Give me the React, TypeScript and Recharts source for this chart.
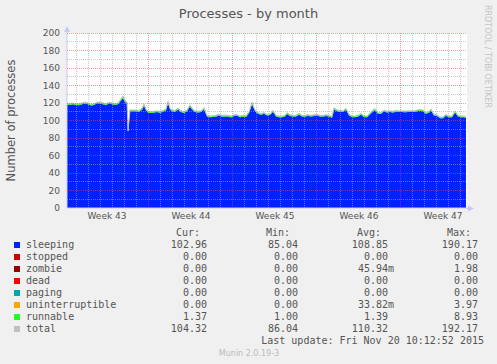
import React from 'react';
import {
  ComposedChart,
  Area,
  Line,
  XAxis,
  YAxis,
} from 'recharts';

// time axis in hours from the left edge of the graph
const hours = [
  0, 6, 12, 18, 24, 30, 36, 42, 48, 54, 60, 66, 72, 78, 84, 90, 96, 102, 108, 112,
  116, 120, 122, 124, 126, 132, 138, 144, 150, 154, 158, 162, 168, 174, 180, 186, 192, 198, 202, 206,
  210, 216, 222, 228, 234, 240, 246, 250, 256, 262, 268, 274, 280, 286, 292, 298, 304, 310, 316, 322,
  328, 334, 340, 346, 352, 358, 364, 370, 376, 382, 388, 394, 400, 406, 412, 418, 424, 430, 436, 440,
  446, 452, 458, 464, 470, 476, 482, 488, 494, 500, 506, 512, 518, 524, 530, 534, 540, 546, 552, 558,
  564, 570, 576, 582, 588, 594, 600, 606, 612, 616, 622, 628, 634, 640, 646, 652, 658, 664, 670, 676,
  682, 688, 694, 700, 706, 712, 718, 724, 728, 734, 740, 746, 752, 758, 764, 770, 776, 782, 788, 794,
  798,
];

const sleeping = [
  117.6, 118, 118.6, 117.6, 117.4, 118.6, 119.5, 118.6, 117.1, 117.7, 119.6, 119.5, 118.6, 117.4, 119.6, 118.6, 118, 118.6, 123, 125.5,
  121.2, 119.5, 86.6, 98.8, 110.6, 110.6, 110.5, 110.1, 112.4, 116.8, 111.6, 109.1, 108.7, 109.1, 109.6, 109, 110.1, 111.4, 119.6, 112.5,
  110.6, 110.1, 112.5, 109.6, 108.6, 110.5, 116, 112.5, 109.6, 109.1, 109.6, 112.9, 104.6, 103.7, 104.1, 104.6, 105.5, 104.6, 104.6, 104.6,
  103.5, 105.1, 105.6, 103.7, 104.6, 104.1, 108.4, 118.6, 110.5, 107.6, 106.6, 107.6, 105.6, 106.2, 109.9, 104.6, 103.6, 103.6, 104.6, 107.5,
  105.1, 104.6, 104.6, 106.5, 104.6, 104.6, 105.1, 104.7, 105.1, 105.6, 104.6, 104.6, 105.1, 104.6, 103.2, 112.7, 110.5, 110.1, 109.6, 112.4,
  105.6, 104.1, 103.7, 104.6, 106.5, 104.1, 103.6, 107, 110.4, 111.7, 107.6, 107.6, 110.5, 109.1, 109.6, 109.1, 110.1, 109.6, 109.6, 109.5,
  109.6, 109.6, 109.6, 110.5, 111.1, 110.6, 107.6, 109, 111.4, 105.6, 105.1, 102.7, 102.6, 105.5, 103.6, 103.6, 109.2, 104.6, 103.6, 103.6,
  102.96,
];

const runnable = [
  1.4, 1.5, 1.4, 1.4, 1.6, 1.4, 1.5, 1.4, 1.4, 1.3, 1.4, 1.5, 1.4, 1.6, 1.4, 1.4, 1.5, 1.4, 2.0, 2.5,
  1.8, 1.5, 1.4, 1.2, 1.4, 1.4, 1.5, 1.4, 1.6, 2.2, 1.4, 1.4, 1.3, 1.4, 1.4, 1.5, 1.4, 1.6, 2.4, 1.5,
  1.4, 1.4, 1.5, 1.4, 1.4, 1.5, 2.0, 1.5, 1.4, 1.4, 1.4, 1.6, 1.4, 1.3, 1.4, 1.4, 1.5, 1.4, 1.4, 1.4,
  1.5, 1.4, 1.4, 1.3, 1.4, 1.4, 1.6, 2.4, 1.5, 1.4, 1.4, 1.4, 1.4, 1.3, 1.6, 1.4, 1.4, 1.4, 1.4, 1.5,
  1.4, 1.4, 1.4, 1.5, 1.4, 1.4, 1.4, 1.3, 1.4, 1.4, 1.4, 1.4, 1.4, 1.4, 1.3, 1.8, 1.5, 1.4, 1.4, 1.6,
  1.4, 1.4, 1.3, 1.4, 1.5, 1.4, 1.4, 1.5, 1.6, 1.8, 1.4, 1.4, 1.5, 1.4, 1.4, 1.4, 1.4, 1.4, 1.4, 1.5,
  1.4, 1.4, 1.4, 1.5, 1.4, 1.4, 1.4, 1.5, 1.6, 1.4, 1.4, 1.3, 1.4, 1.5, 1.4, 1.4, 1.8, 1.4, 1.4, 1.4,
  1.37,
];

const total = [
  119, 119.5, 120, 119, 119, 120, 121, 120, 118.5, 119, 121, 121, 120, 119, 121, 120, 119.5, 120, 125, 128,
  123, 121, 88, 100, 112, 112, 112, 111.5, 114, 119, 113, 110.5, 110, 110.5, 111, 110.5, 111.5, 113, 122, 114,
  112, 111.5, 114, 111, 110, 112, 118, 114, 111, 110.5, 111, 114.5, 106, 105, 105.5, 106, 107, 106, 106, 106,
  105, 106.5, 107, 105, 106, 105.5, 110, 121, 112, 109, 108, 109, 107, 107.5, 111.5, 106, 105, 105, 106, 109,
  106.5, 106, 106, 108, 106, 106, 106.5, 106, 106.5, 107, 106, 106, 106.5, 106, 104.5, 114.5, 112, 111.5, 111, 114,
  107, 105.5, 105, 106, 108, 105.5, 105, 108.5, 112, 113.5, 109, 109, 112, 110.5, 111, 110.5, 111.5, 111, 111, 111,
  111, 111, 111, 112, 112.5, 112, 109, 110.5, 113, 107, 106.5, 104, 104, 107, 105, 105, 111, 106, 105, 105,
  104.32,
];

const weekTicks = [80, 248, 416, 584, 752];
const weekLabels = ['Week 43', 'Week 44', 'Week 45', 'Week 46', 'Week 47'];
const weekBounds = [162, 330, 498, 666];
const yTicks = [0, 20, 40, 60, 80, 100, 120, 140, 160, 180, 200];

const legendNames = ['sleeping', 'stopped', 'zombie', 'dead', 'paging', 'uninterruptible', 'runnable', 'total'];
const legendColors = ['#0022ff', '#cc0000', '#990000', '#ff0000', '#00aaaa', '#ffa500', '#22ff22', '#c0c0c0'];
const curValues = ['102.96', '0.00', '0.00', '0.00', '0.00', '0.00', '1.37', '104.32'];
const minValues = ['85.04', '0.00', '0.00', '0.00', '0.00', '0.00', '1.00', '86.04'];
const avgValues = ['108.85', '0.00', '45.94m', '0.00', '0.00', '33.82m', '1.39', '110.32'];
const maxValues = ['190.17', '0.00', '1.98', '0.00', '0.00', '3.97', '8.93', '192.17'];

const SANS = '"DejaVu Sans", sans-serif';
const MONO = '"DejaVu Sans Mono", monospace';
const TEXT = '#555555';
const AXIS = '#c8c8f8';
const MINOR = 'rgba(165,165,165,0.6)';
const MAJOR = 'rgba(245,70,70,0.55)';
const MARGIN = { top: 33, right: 30, bottom: 126, left: 7 };

// right-aligned legend column (the unit suffix, or a blank, takes the last char)
const Column = ({ values, right, head, headRight }: { values: string[]; right: number; head: string; headRight: number }) => (
  <>
    <div style={{ position: 'absolute', left: headRight - 80, top: 227, width: 80, textAlign: 'right' }}>{head}</div>
    {values.map((v, i) => (
      <div key={i} style={{ position: 'absolute', left: right - 80, top: 238.5 + i * 12, width: 80, textAlign: 'right' }}>
        {/m$/.test(v) ? v : v + ' '}
      </div>
    ))}
  </>
);

export default function App() {
  const data = hours.map((t, i) => ({ t, sleeping: sleeping[i], runnable: runnable[i], total: total[i] }));

  // rrdtool puts its dotted grid over the data: one line every 10 processes and every day,
  // every 20 and the week starts are red
  const gridY: number[] = [];
  for (let v = 10; v <= 200; v += 10) gridY.push(v);
  const gridX: number[] = [];
  for (let h = 18; h < 800; h += 24) gridX.push(h);

  const gridLine = (key: string, pts: { t: number; g: number }[], major: boolean) => (
    <Line
      key={key}
      data={pts}
      dataKey="g"
      type="linear"
      stroke={major ? MAJOR : MINOR}
      strokeWidth={1}
      strokeDasharray="1 1"
      shapeRendering="crispEdges"
      dot={false}
      activeDot={false}
      legendType="none"
      isAnimationActive={false}
    />
  );

  // same axes in both charts so the two plot areas line up; the top one shows nothing of them
  const axes = (bare: boolean) => [
    <XAxis
      key="x"
      type="number"
      dataKey="t"
      domain={[0, 800]}
      ticks={weekTicks}
      interval={0}
      tickFormatter={(v: number) => weekLabels[weekTicks.indexOf(v)]}
      height={30}
      tickSize={0}
      tickMargin={5}
      axisLine={bare ? false : { stroke: AXIS }}
      tickLine={false}
      tick={bare ? false : { fill: TEXT, fontSize: 9, fontFamily: SANS }}
      allowDataOverflow
    />,
    <YAxis
      key="y"
      type="number"
      domain={[0, 200]}
      ticks={yTicks}
      interval={0}
      width={60}
      tickSize={0}
      tickMargin={7}
      axisLine={bare ? false : { stroke: AXIS }}
      tickLine={false}
      tick={bare ? false : { fill: TEXT, fontSize: 9, fontFamily: SANS }}
      allowDataOverflow
    />,
  ];

  return (
    <div style={{ position: 'absolute', left: 0, top: 0, width: 497, height: 364, background: '#f0f0f0', overflow: 'hidden' }}>
      {/* canvas behind the plot */}
      <div style={{ position: 'absolute', left: 67, top: 33, width: 400, height: 175, background: '#ffffff' }} />
      <div style={{ position: 'absolute', left: 0, top: 0 }}>
        <ComposedChart width={497} height={364} data={data} margin={MARGIN}>
          {axes(false)}
          <Area type="linear" dataKey="sleeping" stackId="p" stroke="none" fill="#0022ff" fillOpacity={1} isAnimationActive={false} />
          <Area type="linear" dataKey="runnable" stackId="p" stroke="none" fill="#22ff22" fillOpacity={1} isAnimationActive={false} />
          <Line type="linear" dataKey="total" stroke="#c0c0c0" strokeWidth={1} dot={false} isAnimationActive={false} />
        </ComposedChart>
      </div>
      <div style={{ position: 'absolute', left: 0, top: 0, pointerEvents: 'none' }}>
        <ComposedChart width={497} height={364} data={data} margin={MARGIN}>
          {axes(true)}
          {gridY.map((v) => gridLine('h' + v, [{ t: 0, g: v }, { t: 800, g: v }], v % 20 === 0))}
          {gridX.map((h) => gridLine('v' + h, [{ t: h, g: 0 }, { t: h, g: 200 }], weekBounds.includes(h)))}
        </ComposedChart>
      </div>

      <svg width={497} height={364} style={{ position: 'absolute', left: 0, top: 0, pointerEvents: 'none' }}>
        <text x={248.5} y={18} textAnchor="middle" fontSize={13} fontFamily={SANS} fill={TEXT}>
          Processes - by month
        </text>
        <text
          transform="translate(11,120.5) rotate(-90)"
          textAnchor="middle"
          dominantBaseline="central"
          fontSize={11.5}
          fontFamily={SANS}
          fill={TEXT}
        >
          Number of processes
        </text>
        <text transform="translate(487,5) rotate(90)" dominantBaseline="central" fontSize={8} fontFamily={SANS} fill="#c4c4c4">
          RRDTOOL / TOBI OETIKER
        </text>
        <text x={249} y={356} textAnchor="middle" fontSize={8} fontFamily={SANS} fill="#bbbbbb">
          Munin 2.0.19-3
        </text>
        <line x1={67} y1={31} x2={67} y2={33} stroke={AXIS} />
        <polygon points="64,32 67,26 70,32" fill={AXIS} />
        <line x1={466} y1={208.5} x2={469} y2={208.5} stroke={AXIS} />
        <polygon points="468,205.5 474,208.5 468,211.5" fill={AXIS} />
      </svg>

      <div style={{ position: 'absolute', left: 0, top: 0, width: 497, height: 364, fontFamily: MONO, fontSize: 10, lineHeight: '12px', color: TEXT, whiteSpace: 'pre' }}>
        {legendNames.map((name, i) => (
          <React.Fragment key={name}>
            <div style={{ position: 'absolute', left: 14, top: 241.5 + i * 12, width: 6, height: 6, background: legendColors[i] }} />
            <div style={{ position: 'absolute', left: 26, top: 238.5 + i * 12 }}>{name}</div>
          </React.Fragment>
        ))}
        <Column values={curValues} right={213} head="Cur:" headRight={200} />
        <Column values={minValues} right={304} head="Min:" headRight={290} />
        <Column values={avgValues} right={394} head="Avg:" headRight={381} />
        <Column values={maxValues} right={484} head="Max:" headRight={471} />
        <div style={{ position: 'absolute', left: 184, top: 334.5, width: 300, textAlign: 'right' }}>
          Last update: Fri Nov 20 10:12:52 2015
        </div>
      </div>
    </div>
  );
}
